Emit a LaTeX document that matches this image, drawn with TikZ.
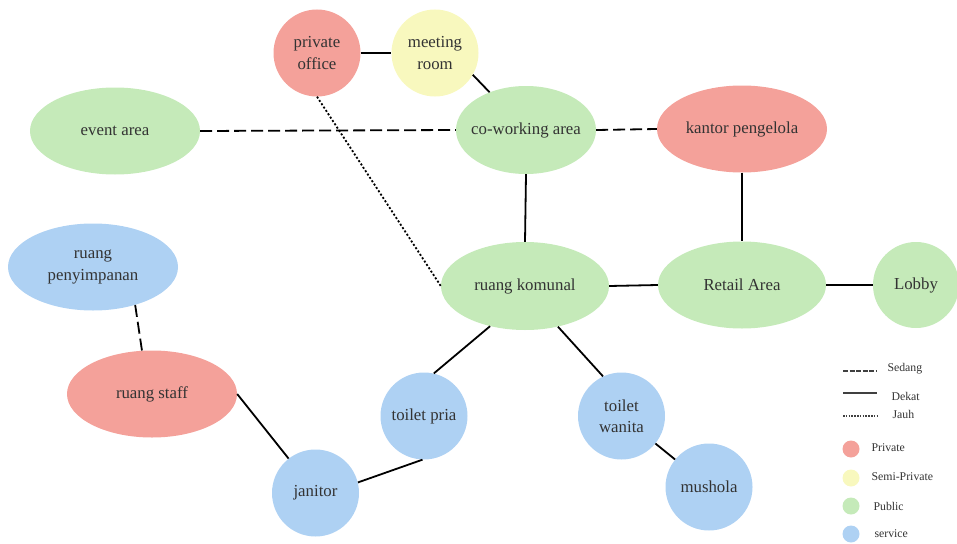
\documentclass[tikz,border=0pt]{standalone}
\usepackage{fontspec}
\setmainfont{Liberation Serif}
\usetikzlibrary{shapes.geometric}
\begin{document}
\begin{tikzpicture}[x=1pt,y=-1pt,
  txt/.style={text=black!80, font=\fontsize{16.8}{21.5}\selectfont, align=center},
  ell/.style={ellipse, txt, inner sep=0pt},
  cir/.style={circle, txt, inner sep=0pt},
  priv/.style={fill=privc, draw=none},
  semi/.style={fill=semic, draw=none},
  pub/.style={fill=pubc, draw=none},
  serv/.style={fill=servc, draw=none},
  link/.style={line width=1.8pt, black},
  sedang/.style={link, dash pattern=on 12pt off 5pt},
  jauh/.style={line width=1.8pt, black, dash pattern=on 2pt off 2pt},
  lgt/.style={text=black!80, font=\fontsize{11.8}{14}\selectfont, anchor=west},
  lline/.style={line width=1.6pt, black!75},
  ldot/.style={circle, minimum size=17pt, inner sep=0pt, draw=none}
]
\definecolor{privc}{HTML}{F4A19A}
\definecolor{semic}{HTML}{F8F8BE}
\definecolor{pubc}{HTML}{C5EAB9}
\definecolor{servc}{HTML}{AED1F3}
\useasboundingbox (0,0) rectangle (957,543);

\node[cir, priv, minimum size=87pt] (po) at (317,53) {private\\office};
\node[cir, semi, minimum size=87pt] (mr) at (435,53) {meeting\\room};
\node[ell, pub, minimum width=170pt, minimum height=87pt] (ea) at (115,131) {event area};
\node[ell, pub, minimum width=140pt, minimum height=88pt, inner xsep=-12pt] (cw) at (526,130) {co-working area};
\node[ell, priv, minimum width=170pt, minimum height=87pt] (kp) at (742,129) {kantor pengelola};
\node[ell, serv, minimum width=170pt, minimum height=87pt] (rp) at (93,267) {ruang\\penyimpanan};
\node[ell, pub, minimum width=168pt, minimum height=88pt] (rk) at (525,286) {ruang komunal};
\node[ell, pub, minimum width=168pt, minimum height=87pt] (ra) at (742,285) {Retail Area};
\node[cir, pub, minimum size=86pt] (lb) at (916,285) {Lobby};
\node[ell, priv, minimum width=170pt, minimum height=87pt] (rs) at (152,394) {ruang staff};
\node[cir, serv, minimum size=87pt] (tp) at (424,416) {toilet pria};
\node[cir, serv, minimum size=87pt] (tw) at (621.5,416) {toilet\\wanita};
\node[cir, serv, minimum size=87pt] (jn) at (315.5,493) {janitor};
\node[cir, serv, minimum size=87pt] (ms) at (709,487) {mushola};

\draw[link] (po) -- (mr);
\draw[link] (mr.330) -- (cw.134);
\draw[sedang] (ea.east) -- (cw.west);
\draw[sedang] (cw.east) -- (kp.west);
\draw[link] (cw.south) -- (rk.north);
\draw[jauh] (po.south) -- (rk.west);
\draw[link] (kp) -- (ra);
\draw[link] (rk.east) -- (ra.west);
\draw[link] (ra) -- (lb);
\draw[link] (rk.229) -- (tp.77);
\draw[link] (rk.309) -- (tw.115);
\draw[link] (tw) -- (ms);
\draw[link] (tp.268) -- (jn.14);
\draw[sedang] (rp.318) -- (rs.103);
\draw[link] (rs.east) -- (jn.128);

% legend
\coordinate (s1) at (843,371); \coordinate (s2) at (877,371);
\coordinate (d1) at (843,393); \coordinate (d2) at (877,393);
\coordinate (j1) at (843,416); \coordinate (j2) at (877,416);
\draw[lline, dash pattern=on 5pt off 1.5pt] (s1) -- (s2);
\draw[lline] (d1) -- (d2);
\draw[lline, dash pattern=on 1.5pt off 1.3pt] (j1) -- (j2);
\node[lgt] (ls) at (884,369) {Sedang};
\node[lgt] (ld) at (888,396) {Dekat};
\node[lgt] (lj) at (889,414) {Jauh};
\node[ldot, priv] (c1) at (851,449) {};
\node[ldot, semi] (c2) at (851,478) {};
\node[ldot, pub] (c3) at (851,506) {};
\node[ldot, serv] (c4) at (851,534) {};
\node[lgt] (l1) at (868,448) {Private};
\node[lgt] (l2) at (868,477) {Semi-Private};
\node[lgt] (l3) at (870,506) {Public};
\node[lgt] (l4) at (871,534) {service};
\end{tikzpicture}
\end{document}
